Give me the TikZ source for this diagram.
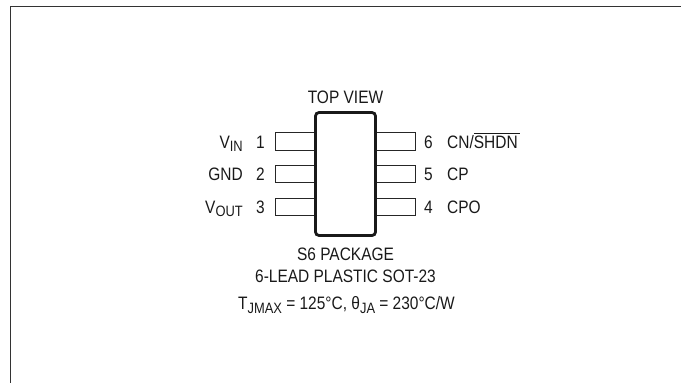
\documentclass[tikz,border=0pt]{standalone}
\usepackage{fontspec}
\setmainfont[FakeStretch=0.86]{Liberation Sans}
\newcommand{\subtxt}[1]{\raisebox{-3.6pt}{\fontsize{15}{15}\selectfont #1}}
\tikzset{
  frameline/.style={draw=black!80,line width=1.2pt},
  chipbody/.style={draw=black!90,line width=2.8pt,rounded corners=3.5pt,fill=white},
  leadbox/.style={draw=black!85,line width=0.9pt,fill=white},
  lbl/.style={inner sep=0pt,text=black!90,font=\fontsize{18}{18}\selectfont},
}
\begin{document}
\begin{tikzpicture}[x=1pt,y=-1pt]
\useasboundingbox (0,0) rectangle (681,383);
\coordinate (ftop) at (681,6.5);
\coordinate (fcorner) at (10.5,6.5);
\coordinate (fbot) at (10.5,383);
\draw[frameline] (ftop) -- (fcorner) -- (fbot);
\draw[leadbox] (275,132.5) rectangle (316,150);
\draw[leadbox] (275,165) rectangle (316,182.5);
\draw[leadbox] (275,198) rectangle (316,215.5);
\draw[leadbox] (375,132.5) rectangle (415.5,150);
\draw[leadbox] (375,165) rectangle (415.5,182.5);
\draw[leadbox] (375,198) rectangle (415.5,215.5);
\node[chipbody,minimum width=60pt,minimum height=123pt,inner sep=0pt] (chip) at (345.5,174) {};
\node[lbl,anchor=base] (top) at (345.5,103.5) {TOP VIEW};
\node[lbl,anchor=base east] (p1) at (265,148) {1};
\node[lbl,anchor=base east] (p2) at (265,180.5) {2};
\node[lbl,anchor=base east] (p3) at (265,213) {3};
\node[lbl,anchor=base west] (p6) at (424,148) {6};
\node[lbl,anchor=base west] (p5) at (424,180.5) {5};
\node[lbl,anchor=base west] (p4) at (424,213) {4};
\node[lbl,anchor=base east] (vin) at (243,148) {V\subtxt{IN}};
\node[lbl,anchor=base east] (gnd) at (243,180.5) {GND};
\node[lbl,anchor=base east] (vout) at (243,213) {V\subtxt{OUT}};
\node[lbl,anchor=base west] (cn) at (447,148) {CN/\rlap{\rule[14pt]{46pt}{0.7pt}}SHDN};
\node[lbl,anchor=base west] (cp) at (447,180.5) {CP};
\node[lbl,anchor=base west] (cpo) at (447,213) {CPO};
\node[lbl,anchor=base] (pkg) at (345.5,260.5) {S6 PACKAGE};
\node[lbl,anchor=base] (lead) at (345.5,282.5) {6-LEAD PLASTIC SOT-23};
\node[lbl,anchor=base] (therm) at (346.5,309.5) {T\subtxt{JMAX} = 125°C, θ\subtxt{JA} = 230°C/W};
\end{tikzpicture}
\end{document}
